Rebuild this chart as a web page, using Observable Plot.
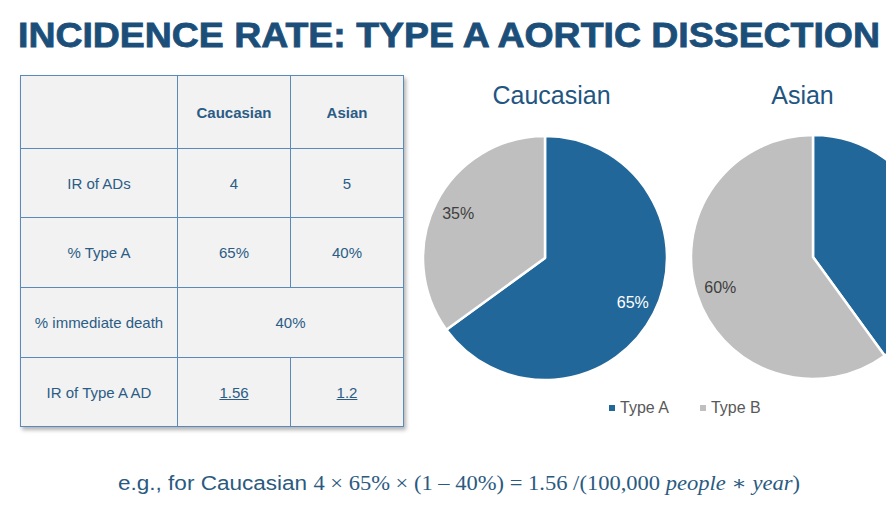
<!DOCTYPE html>
<html>
<head>
<meta charset="utf-8">
<script src="https://cdn.jsdelivr.net/npm/d3@7"></script>
<script src="https://cdn.jsdelivr.net/npm/@observablehq/plot@0.6"></script>
<style>
html, body { margin: 0; padding: 0; background: #fff; overflow: hidden; width: 886px; height: 512px; }
#root { position: relative; width: 886px; height: 512px; overflow: hidden; font-family: "Liberation Sans", Arial, sans-serif; }
#chart { position: absolute; left: 0; top: 0; }
#title { position: absolute; left: 18px; top: 18px; white-space: nowrap; font-family: "Liberation Sans", Arial, sans-serif; font-weight: bold; font-size: 34.5px; line-height: 34.5px; color: #1b4f7a; -webkit-text-stroke: 0.8px #1b4f7a; transform-origin: 0 0; }
#tbl { position: absolute; left: 20px; top: 75px; border-collapse: collapse; table-layout: fixed; background: #f2f2f2; box-shadow: 2px 3px 4px rgba(0,0,0,0.30); }
#tbl td { border: 1.5px solid #5a8aba; text-align: center; vertical-align: middle; font-size: 15px; color: #2b5c86; padding: 0; }
#tbl td.h { font-weight: bold; }
#tbl td.u span { text-decoration: underline; }
#legend { position: absolute; left: 609px; top: 397px; }
#legend .lg-swatches { min-height: 22px; margin: 0; font-size: 16px; font-family: "Liberation Sans", Arial, sans-serif; color: #595959; }
#legend .lg-swatch { margin-right: 31px; }
#legend .lg-swatch > svg { margin-right: 5px; }
#formula { position: absolute; left: 118px; top: 472px; white-space: nowrap; font-size: 20px; line-height: 22px; color: #2b5a80; transform-origin: 0 0; }
#formula .t { font-family: "Liberation Sans", Arial, sans-serif; }
#formula .m { font-family: "Liberation Serif", "DejaVu Serif", serif; }
</style>
</head>
<body>
<div id="root">
  <div id="chart"></div>
  <div id="title">INCIDENCE RATE: TYPE A AORTIC DISSECTION</div>
  <table id="tbl"></table>
  <div id="legend"></div>
  <div id="formula"></div>
</div>
<script>
// ---------- data ----------
const groups = ["Caucasian", "Asian"];
const types = ["Type A", "Type B"];
const typeAPct = [65, 40];
const typeBPct = [35, 60];
const irAD = [4, 5];
const immediateDeathPct = 40;
const irTypeA = ["1.56", "1.2"];
const rowLabels = ["IR of ADs", "% Type A", "% immediate death", "IR of Type A AD"];
const typeColors = ["#22679a", "#bfbfbf"];

// ---------- table ----------
const tbl = d3.select("#tbl");
const cg = tbl.append("colgroup");
[157, 113, 113].forEach(w => cg.append("col").style("width", w + "px"));
const rowHeights = [73, 69, 70, 70, 69];
const hdr = tbl.append("tr").style("height", rowHeights[0] + "px");
hdr.append("td").attr("class", "h").text("");
groups.forEach(g => hdr.append("td").attr("class", "h").text(g));
const r1 = tbl.append("tr").style("height", rowHeights[1] + "px");
r1.append("td").text(rowLabels[0]);
irAD.forEach(v => r1.append("td").text(v));
const r2 = tbl.append("tr").style("height", rowHeights[2] + "px");
r2.append("td").text(rowLabels[1]);
typeAPct.forEach(v => r2.append("td").text(v + "%"));
const r3 = tbl.append("tr").style("height", rowHeights[3] + "px");
r3.append("td").text(rowLabels[2]);
r3.append("td").attr("colspan", 2).text(immediateDeathPct + "%");
const r4 = tbl.append("tr").style("height", rowHeights[4] + "px");
r4.append("td").text(rowLabels[3]);
irTypeA.forEach(v => r4.append("td").attr("class", "u").append("span").text(v));

// ---------- pies ----------
const slices = groups.flatMap((g, i) => [
  {group: g, type: types[0], value: typeAPct[i]},
  {group: g, type: types[1], value: typeBPct[i]}
]);
const W = 886, H = 512;
const R = 122, labelR = 98;
const pieCenters = [[545, 258], [813, 257]];
const titleX = [551, 802];
const pie = d3.pie().sort(null).value(d => d.value);
const arcGen = d3.arc().innerRadius(0).outerRadius(R);
const labelArc = d3.arc().innerRadius(labelR).outerRadius(labelR);

const labels = groups.flatMap((g, i) =>
  pie(slices.filter(d => d.group === g)).map(a => {
    const [dx, dy] = labelArc.centroid(a);
    return {group: g, type: a.data.type, text: a.data.value + "%", x: pieCenters[i][0] + dx, y: pieCenters[i][1] + dy};
  })
).filter(d => d.x + 16 < W); // labels that fall beyond the slide edge are not shown
const titles = groups.map((g, i) => ({text: g, x: titleX[i], y: 103}));

function pieSlices(index, scales) {
  const sx = scales.x ?? (v => v), sy = scales.y ?? (v => v);
  const col = scales.color ?? (t => typeColors[types.indexOf(t)]);
  const g = d3.create("svg:g");
  groups.forEach((grp, i) => {
    g.append("g")
      .attr("transform", `translate(${sx(pieCenters[i][0])},${sy(pieCenters[i][1])})`)
      .selectAll("path")
      .data(pie(slices.filter(d => d.group === grp)))
      .join("path")
      .attr("d", arcGen)
      .attr("fill", d => col(d.data.type))
      .attr("stroke", "#fff")
      .attr("stroke-width", 2.5)
      .attr("stroke-linejoin", "round");
  });
  return g.node();
}

const chart = Plot.plot({
  width: W,
  height: H,
  margin: 0,
  x: {type: "identity", axis: null},
  y: {type: "identity", axis: null},
  color: {domain: types, range: typeColors},
  style: {fontFamily: "Liberation Sans, Arial, sans-serif", background: "transparent", overflow: "hidden"},
  marks: [
    pieSlices,
    Plot.text(labels.filter(d => d.type === types[0]), {x: "x", y: "y", text: "text", fill: "#ffffff", fontSize: 16}),
    Plot.text(labels.filter(d => d.type === types[1]), {x: "x", y: "y", text: "text", fill: "#404040", fontSize: 16}),
    Plot.text(titles, {x: "x", y: "y", text: "text", fill: "#22557f", fontSize: 25, lineAnchor: "bottom"})
  ]
});
document.getElementById("chart").appendChild(chart);

const legend = Plot.legend({
  color: {domain: types, range: typeColors},
  legend: "swatches",
  swatchSize: 6,
  className: "lg"
});
document.getElementById("legend").appendChild(legend);

// ---------- formula ----------
const f = d3.select("#formula");
f.append("span").attr("class", "t").text("e.g., for " + groups[0] + " ");
const m = f.append("span").attr("class", "m");
m.append("span").text(`${irAD[0]} × ${typeAPct[0]}% × (1 – ${immediateDeathPct}%) = ${irTypeA[0]} /(100,000 `);
m.append("i").text("people");
m.append("span").text(" ∗ ");
m.append("i").text("year");
m.append("span").text(")");

function fit(id, target) {
  const el = document.getElementById(id);
  const w = el.getBoundingClientRect().width;
  if (w > 0) el.style.transform = `scaleX(${target / w})`;
}
fit("title", 862);
fit("formula", 682);
</script>
</body>
</html>
